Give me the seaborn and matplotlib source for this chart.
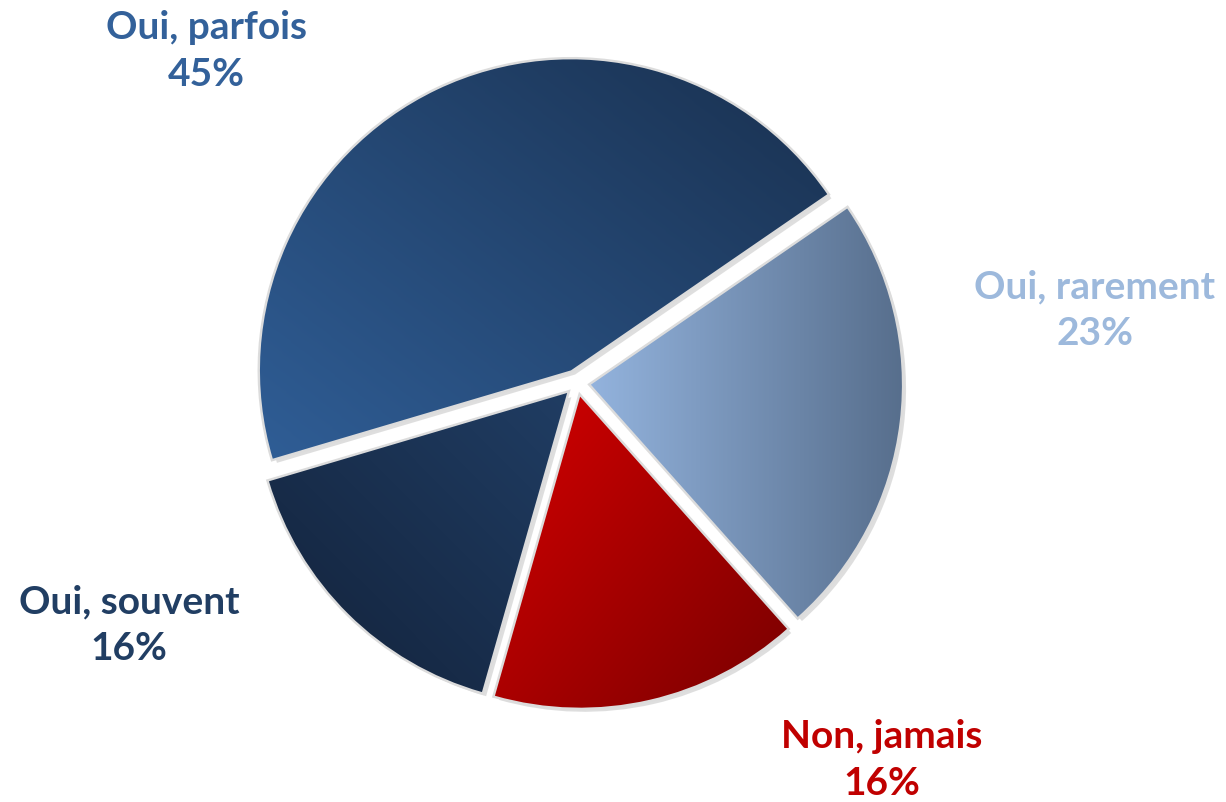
import numpy as np
import matplotlib
matplotlib.use("Agg")
import matplotlib.pyplot as plt
import matplotlib.patheffects as pe
from matplotlib.colors import LinearSegmentedColormap
import seaborn as sns

# ---- data ----
categories = ["Oui, parfois", "Oui, souvent", "Non, jamais", "Oui, rarement"]
values = [45, 16, 16, 23]
pct_labels = ["45%", "16%", "16%", "23%"]

# ---- styles ----
grad_light = ["#2F5D95", "#203D63", "#C60000", "#93B3DD"]
grad_dark = ["#1C3658", "#162945", "#830000", "#566D8B"]
grad_dir = [(1.0, 1.3), (-1.0, -1.0), (1.0, -0.8), (1.0, 0.0)]  # light -> dark
label_colors = ["#33619A", "#213E63", "#C00000", "#9DB9DC"]
label_pos_px = [(206, 51), (129, 625), (882, 760), (1095, 310)]

sns.set_theme(style="white")
plt.rcParams["font.family"] = ["Lato", "DejaVu Sans"]

W, H = 1226, 802
fig = plt.figure(figsize=(W / 100, H / 100), dpi=100)
ax = fig.add_axes([0, 0, 1, 1])
ax.set_axis_off()

cx, cy, R = 577, H - 383, 311
wedges, _ = ax.pie(
    values,
    startangle=34.5,
    counterclock=True,
    center=(cx, cy),
    radius=R,
    explode=[14] * len(values),
    colors=grad_light,
    wedgeprops=dict(edgecolor="#DCDCDC", linewidth=3.5),
    frame=False,
)

for i, w in enumerate(wedges):
    w.set_path_effects([
        pe.SimplePatchShadow(offset=(3, -3), shadow_rgbFace="#BFBFBF", alpha=0.5),
        pe.Normal(),
    ])
    wc = w.center
    verts = w.get_path().vertices
    d = np.array(grad_dir[i], dtype=float)
    d /= np.linalg.norm(d)
    proj = (verts[:, 0] - wc[0]) * d[0] + (verts[:, 1] - wc[1]) * d[1]
    pmin, pmax = proj.min(), proj.max()
    x0, x1 = verts[:, 0].min(), verts[:, 0].max()
    y0, y1 = verts[:, 1].min(), verts[:, 1].max()
    n = 300
    X, Y = np.meshgrid(np.linspace(x0, x1, n), np.linspace(y0, y1, n))
    T = ((X - wc[0]) * d[0] + (Y - wc[1]) * d[1] - pmin) / (pmax - pmin)
    cmap = LinearSegmentedColormap.from_list(f"g{i}", [grad_light[i], grad_dark[i]])
    im = ax.imshow(T, extent=[x0, x1, y0, y1], origin="lower", cmap=cmap,
                   vmin=0, vmax=1, interpolation="bilinear", zorder=3)
    im.set_clip_path(w)

for i, cat in enumerate(categories):
    px, py = label_pos_px[i]
    ax.text(px, H - py, f"{cat}\n{pct_labels[i]}", ha="center", va="center",
            multialignment="center", fontsize=28, fontweight="bold",
            color=label_colors[i], linespacing=1.4, zorder=5)

ax.set_xlim(0, W)
ax.set_ylim(0, H)
ax.set_aspect("auto")
fig.savefig("out.png", dpi=100, facecolor="white")
